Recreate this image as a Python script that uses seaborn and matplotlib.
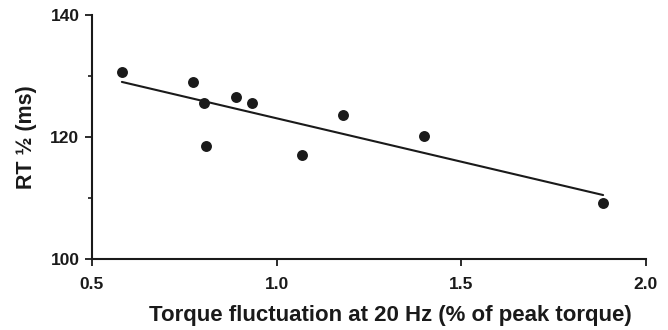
import matplotlib
matplotlib.use("Agg")
import matplotlib.pyplot as plt
import seaborn as sns
import pandas as pd
from matplotlib.ticker import MultipleLocator

torque_fluct = [0.581, 0.773, 0.803, 0.808, 0.890, 0.933, 1.069, 1.180, 1.399, 1.884]
rt_half = [130.7, 129.0, 125.6, 118.5, 126.6, 125.6, 117.0, 123.6, 120.2, 109.2]
x_ticks = [0.5, 1.0, 1.5, 2.0]
x_tick_labels = ["0.5", "1.0", "1.5", "2.0"]
y_ticks = [100, 120, 140]

sns.set_style("ticks")
plt.rcParams['font.family'] = ['Liberation Sans', 'DejaVu Sans']

df = pd.DataFrame({"x": torque_fluct, "y": rt_half})

fig = plt.figure(figsize=(6.68, 3.30), dpi=100)
ax = fig.add_axes([0.1377, 0.215, 0.8293, 0.740])

sns.regplot(data=df, x="x", y="y", ax=ax, ci=None, color="#1a1a1a",
            scatter_kws={"s": 62, "linewidths": 0, "alpha": 1, "zorder": 3},
            line_kws={"linewidth": 1.5, "color": "#1a1a1a"})

ax.set_xlim(0.5, 2.0)
ax.set_ylim(100, 140)
ax.set_xticks(x_ticks)
ax.set_xticklabels(x_tick_labels)
ax.set_yticks(y_ticks)
ax.yaxis.set_minor_locator(MultipleLocator(10))

for s in ["top", "right"]:
    ax.spines[s].set_visible(False)
for s in ["left", "bottom"]:
    ax.spines[s].set_linewidth(1.5)
    ax.spines[s].set_color("#1a1a1a")

ax.tick_params(axis="both", which="major", direction="out", length=5, width=1.3,
               labelsize=12.5, colors="#1a1a1a")
ax.tick_params(axis="x", which="major", pad=8)
ax.tick_params(axis="y", which="major", pad=4)
ax.tick_params(axis="y", which="minor", direction="out", length=3, width=1.2, colors="#1a1a1a")
for lab in ax.get_xticklabels() + ax.get_yticklabels():
    lab.set_fontweight("bold")

ax.set_xlabel("Torque fluctuation at 20 Hz (% of peak torque)", fontsize=16,
              fontweight="bold", color="#1a1a1a")
ax.xaxis.set_label_coords(0.538, -0.232)
ax.xaxis.label.set_va("center")
ax.set_ylabel("RT ½ (ms)", fontsize=15.5, fontweight="bold", color="#1a1a1a")
ax.yaxis.set_label_coords(-0.119, 0.5)
ax.yaxis.label.set_va("center")

fig.savefig("out.png", dpi=100)
